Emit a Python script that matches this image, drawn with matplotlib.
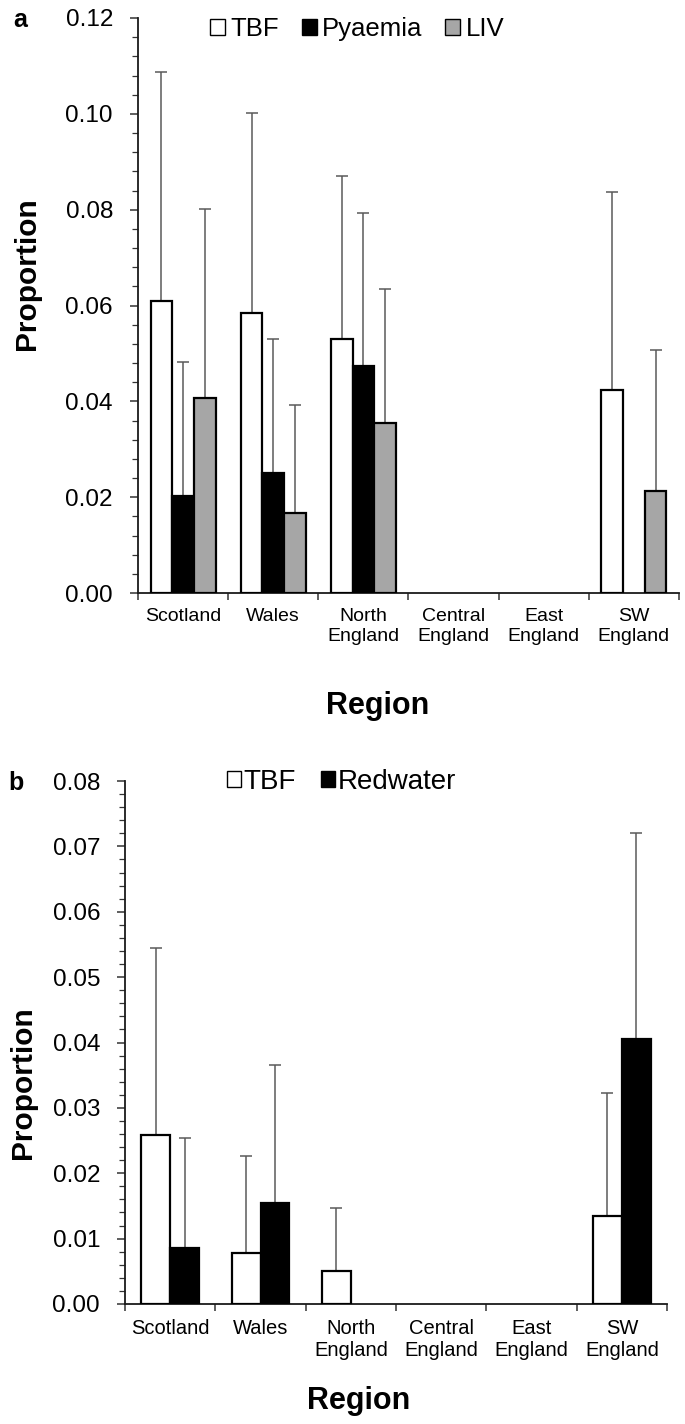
import matplotlib
matplotlib.use("Agg")
import matplotlib.pyplot as plt
from matplotlib.patches import Patch
from matplotlib.ticker import MultipleLocator, FormatStrFormatter
import numpy as np

plt.rcParams['font.family'] = ['Liberation Sans', 'DejaVu Sans']

nan = np.nan
regions = ["Scotland", "Wales", "North\nEngland", "Central\nEngland", "East\nEngland", "SW\nEngland"]

# panel a
tbf_a = [0.0610, 0.0585, 0.0531, nan, nan, 0.0424]
tbf_a_up = [0.1087, 0.1002, 0.0871, nan, nan, 0.0836]
pyaemia = [0.0202, 0.0251, 0.0473, nan, nan, nan]
pyaemia_up = [0.0483, 0.0531, 0.0792, nan, nan, nan]
liv = [0.0408, 0.0167, 0.0355, nan, nan, 0.0212]
liv_up = [0.0802, 0.0393, 0.0634, nan, nan, 0.0507]

# panel b
tbf_b = [0.0258, 0.0078, 0.0050, nan, nan, 0.0135]
tbf_b_up = [0.0545, 0.0226, 0.0147, nan, nan, 0.0322]
redwater = [0.0086, 0.0154, nan, nan, nan, 0.0405]
redwater_up = [0.0254, 0.0366, nan, nan, nan, 0.0720]

W, H = 685, 1424
fig = plt.figure(figsize=(W / 100, H / 100), dpi=100)


def px_axes(left, top, right, bottom):
    return fig.add_axes([left / W, 1 - bottom / H, (right - left) / W, (bottom - top) / H])


def fx(px):
    return px / W


def fy(py):
    return 1 - py / H


def draw_series(ax, x, vals, ups, color, bw):
    vals = np.array(vals, float)
    ups = np.array(ups, float)
    ok = ~np.isnan(vals)
    ax.bar(x[ok], vals[ok], width=bw, color=color, edgecolor='black', linewidth=1.6, zorder=3)
    ax.errorbar(x[ok], vals[ok], yerr=[np.zeros(ok.sum()), ups[ok] - vals[ok]], fmt='none',
                ecolor='#5a5a5a', elinewidth=1.1, capsize=4, capthick=1.1, zorder=2)


def style_axes(ax, ymax, major, minor, xfs):
    ax.set_xlim(-0.5, len(regions) - 0.5)
    ax.set_ylim(0, ymax)
    for s in ['top', 'right']:
        ax.spines[s].set_visible(False)
    for s in ['left', 'bottom']:
        ax.spines[s].set_linewidth(1.3)
        ax.spines[s].set_color('#1a1a1a')
    ax.yaxis.set_major_locator(MultipleLocator(major))
    ax.yaxis.set_minor_locator(MultipleLocator(minor))
    ax.yaxis.set_major_formatter(FormatStrFormatter('%.2f'))
    ax.tick_params(axis='y', which='major', length=6, width=1.1, labelsize=17.5, pad=12,
                   direction='out', color='#333333')
    ax.tick_params(axis='y', which='minor', length=4, width=0.9, direction='out', color='#333333')
    ax.set_xticks(np.arange(-0.5, len(regions) + 0.5, 1))
    ax.set_xticklabels([])
    ax.set_xticks(np.arange(len(regions)), minor=True)
    ax.set_xticklabels(regions, minor=True, fontsize=xfs, linespacing=1.2)
    ax.tick_params(axis='x', which='major', length=5, width=1.1, direction='out', color='#333333')
    ax.tick_params(axis='x', which='minor', length=0, pad=11)


x = np.arange(len(regions))

# ---- panel a
ax1 = px_axes(138, 18, 679, 593)
bw = 0.24
draw_series(ax1, x - bw, tbf_a, tbf_a_up, 'white', bw)
draw_series(ax1, x, pyaemia, pyaemia_up, 'black', bw)
draw_series(ax1, x + bw, liv, liv_up, '#a6a6a6', bw)
style_axes(ax1, 0.12, 0.02, 0.004, 14)
h1 = [Patch(facecolor=c, edgecolor='black', linewidth=1.0) for c in ['white', 'black', '#a6a6a6']]
fig.legend(h1, ["TBF", "Pyaemia", "LIV"], loc='center left', bbox_to_anchor=(fx(210), fy(29)), ncol=3,
           frameon=False, fontsize=18.5, handlelength=0.58, handleheight=0.55, handletextpad=0.2,
           columnspacing=0.9, borderpad=0, borderaxespad=0)

# ---- panel b
ax2 = px_axes(125, 781, 667, 1304)
bw = 0.32
draw_series(ax2, x - bw / 2, tbf_b, tbf_b_up, 'white', bw)
draw_series(ax2, x + bw / 2, redwater, redwater_up, 'black', bw)
style_axes(ax2, 0.08, 0.01, 0.002, 14.5)
h2 = [Patch(facecolor=c, edgecolor='black', linewidth=1.0) for c in ['white', 'black']]
fig.legend(h2, ["TBF", "Redwater"], loc='center left', bbox_to_anchor=(fx(227), fy(782)), ncol=2,
           frameon=False, fontsize=20, handlelength=0.5, handleheight=0.5, handletextpad=0.1,
           columnspacing=0.9, borderpad=0, borderaxespad=0)

# labels
fig.text(fx(27), fy(274), "Proportion", rotation=90, fontsize=21.5, fontweight='bold', ha='center', va='center')
fig.text(fx(23), fy(1083), "Proportion", rotation=90, fontsize=21.5, fontweight='bold', ha='center', va='center')
fig.text(fx(378), fy(706), "Region", fontsize=22, fontweight='bold', ha='center', va='center')
fig.text(fx(359), fy(1401), "Region", fontsize=22, fontweight='bold', ha='center', va='center')
fig.text(fx(20), fy(27), "a", fontsize=18, fontweight='bold', ha='center', va='baseline')
fig.text(fx(16), fy(790), "b", fontsize=18, fontweight='bold', ha='center', va='baseline')

fig.savefig("out.png", dpi=100)
